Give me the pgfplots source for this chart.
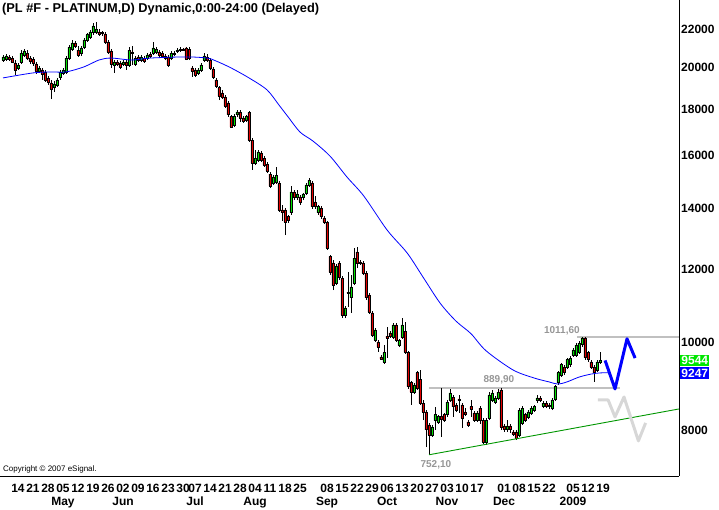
\documentclass[border=0pt]{standalone}
\usepackage{fontspec}
\setmainfont{Liberation Sans}
\usepackage{pgfplots}
\usepackage{pgfplotstable}
\pgfplotsset{compat=1.18}
\definecolor{cup}{RGB}{0,224,0}
\definecolor{cdn}{RGB}{226,0,0}
\definecolor{mablue}{RGB}{0,0,255}
\definecolor{trendgreen}{RGB}{0,150,0}
\definecolor{lvlgray}{RGB}{192,192,192}
\definecolor{ziggray}{RGB}{215,215,215}
\definecolor{labgray}{RGB}{150,150,150}
\definecolor{boxgreen}{RGB}{0,230,0}
\definecolor{boxblue}{RGB}{0,0,255}
\pgfplotsset{
  wick/.style={black, line width=0.9pt, mark=none, forget plot},
  body/.style={draw=black, line width=0.6pt, mark=none, forget plot},
}
\pgfplotstableread{
n o h l c col
0 20380 20640 20280 20540 cup
1 20430 20690 20330 20590 cup
2 20540 20640 20330 20430 cdn
3 20480 20590 20230 20280 cdn
4 20230 20380 19630 19880 cdn
5 19980 20230 19880 20130 cup
6 20280 20900 20180 20740 cup
7 20640 20950 20540 20850 cup
8 20740 20900 20380 20480 cdn
9 20480 20590 20180 20330 cdn
10 20430 20540 20080 20230 cdn
11 20180 20280 19680 19830 cdn
12 19830 20080 19730 19980 cup
13 19880 19980 19380 19680 cdn
14 19780 19880 19280 19380 cdn
15 19480 19580 19140 19280 cdn
16 19240 19380 18470 18950 cdn
17 19000 19330 18800 19190 cup
18 19140 19480 19040 19380 cup
19 19530 19880 19380 19780 cup
20 19730 19980 19630 19880 cup
21 19780 20590 19680 20480 cup
22 20480 21170 20380 21060 cup
23 20950 21440 20850 21280 cup
24 21280 21390 21010 21110 cdn
25 20900 21110 20540 20640 cdn
26 20740 21110 20590 21010 cup
27 21060 21550 20950 21440 cup
28 21440 21830 21330 21720 cup
29 21610 21990 21500 21880 cup
30 21830 22380 21720 22210 cup
31 21880 22440 21770 22050 cup
32 21880 22050 21660 21770 cdn
33 21830 21940 21660 21790 cdn
34 21770 21880 21220 21330 cdn
35 21330 21440 20690 20800 cdn
36 20850 20950 19980 20180 cdn
37 20130 20380 19730 20280 cup
38 20280 20380 20080 20180 cdn
39 20230 20330 19930 20030 cdn
40 20180 20380 20080 20280 cup
41 20280 20380 19880 20130 cdn
42 20130 21060 20030 20900 cup
43 20800 21110 20130 20750 cdn
44 20180 20590 20080 20480 cup
45 20540 20640 20280 20380 cdn
46 20380 20640 20280 20540 cup
47 20480 20590 20230 20330 cdn
48 20480 20740 20380 20640 cup
49 20690 20800 20480 20590 cdn
50 20740 21330 20640 21010 cup
51 20800 21060 20690 20950 cup
52 20800 20900 20540 20640 cdn
53 20740 20850 20480 20590 cdn
54 20590 20690 20380 20480 cdn
55 20540 20640 20030 20130 cdn
56 20480 20850 20380 20740 cup
57 20690 20850 20590 20740 cup
58 20850 21010 20740 20900 cup
59 20900 21060 20800 20950 cup
60 20950 21010 20850 20900 cdn
61 21010 21060 20380 20430 cdn
62 20950 21060 20380 20480 cdn
63 19980 20080 19530 19830 cdn
64 19880 19980 19530 19630 cdn
65 19730 19980 19630 19880 cup
66 19880 20230 19780 20130 cup
67 20380 20740 20280 20590 cup
68 20540 20690 20280 20380 cdn
69 20380 20480 19880 19980 cdn
70 19930 20030 19430 19530 cdn
71 19380 19480 19000 19090 cdn
72 19000 19090 18420 18610 cdn
73 18760 18900 18470 18570 cdn
74 18570 18660 18060 18150 cdn
75 18290 18380 17660 17750 cdn
76 17660 17750 17170 17210 cdn
77 17300 17790 17210 17660 cup
78 17750 17970 17660 17880 cup
79 17880 17970 17430 17610 cdn
80 17610 17700 17390 17480 cdn
81 17520 17750 17430 17660 cup
82 17840 17930 16570 16650 cdn
83 16650 16730 15440 15710 cdn
84 15710 16240 15630 15910 cup
85 15830 16240 15750 16160 cup
86 16120 16200 15750 15830 cdn
87 15910 15990 15560 15630 cdn
88 15670 15750 15320 15400 cdn
89 15280 15360 14750 14830 cdn
90 14940 15240 14870 15170 cup
91 14980 15560 14900 15240 cup
92 14940 15010 13890 13960 cdn
93 13960 14140 13580 13860 cdn
94 13960 14030 13100 13540 cdn
95 13720 13790 13510 13610 cdn
96 13860 14830 13790 14610 cup
97 14610 14680 14310 14420 cdn
98 14420 14680 14310 14530 cup
99 14420 14500 14140 14240 cdn
100 14420 14570 14310 14530 cup
101 14570 14940 14500 14870 cup
102 14870 15130 14790 15050 cup
103 14940 15010 14000 14070 cdn
104 14240 14460 14000 14070 cdn
105 13860 14140 13790 14070 cup
106 14030 14100 13650 13720 cdn
107 13680 13750 13470 13540 cdn
108 13510 13580 12620 12680 cdn
109 12400 12460 11840 11930 cdn
110 12210 12300 11400 11540 cdn
111 11600 12180 11540 12110 cup
112 12210 12270 11690 11780 cdn
113 11750 11810 10620 10700 cdn
114 10700 10950 10620 10900 cup
115 11340 11930 10920 11310 cdn
116 11180 11840 10760 11490 cup
117 11600 12680 11540 12360 cup
118 12550 12710 12050 12210 cdn
119 12240 12300 12150 12210 cdn
120 12210 12270 11840 11900 cdn
121 11900 11960 11120 11180 cdn
122 11260 11310 10730 10790 cdn
123 10760 10810 10130 10180 cdn
124 10050 10360 10000 10310 cup
125 10000 10050 9750 9870 cdn
126 9630 9680 9556 9580 cdn
127 9510 9920 9460 9730 cup
128 10150 10390 9610 10100 cdn
129 10230 10280 10100 10150 cdn
130 10130 10490 10080 10440 cup
131 10440 10490 10000 10050 cdn
132 9920 10080 9870 10030 cup
133 10130 10630 10080 10440 cup
134 10260 10520 9700 9750 cdn
135 9730 9780 8880 8930 cdn
136 9020 9060 8530 8810 cdn
137 8810 9020 8770 8970 cup
138 9250 9290 8860 8900 cdn
139 9090 9320 8530 8570 cdn
140 8570 8640 8210 8380 cdn
141 8380 8420 7670 8010 cdn
142 8110 8150 7521 7910 cdn
143 7910 8110 7870 8070 cup
144 8210 8490 8010 8320 cup
145 8170 8320 8130 8280 cup
146 8280 8899 7870 8230 cdn
147 8320 8360 8170 8210 cdn
148 8320 8640 8280 8590 cup
149 8640 8880 8590 8790 cup
150 8700 8750 8280 8490 cdn
151 8530 8570 8380 8420 cdn
152 8660 8750 8360 8620 cdn
153 8530 8570 8050 8250 cdn
154 8380 8460 8300 8340 cdn
155 8170 8210 8070 8110 cdn
156 8490 8640 8280 8440 cdn
157 8360 8400 8170 8210 cdn
158 8210 8400 8170 8360 cup
159 8460 8510 8130 8210 cdn
160 8210 8250 7730 7770 cdn
161 7770 8250 7710 8210 cup
162 8250 8810 8210 8750 cup
163 8640 8860 8590 8790 cup
164 8590 8720 8550 8680 cup
165 8680 8890 8640 8810 cup
166 8860 8895 8010 8070 cdn
167 8090 8130 7970 8010 cdn
168 8010 8210 7970 8090 cup
169 8090 8130 7950 8010 cdn
170 7970 8010 7890 7930 cdn
171 7970 8010 7810 7850 cdn
172 7910 8460 7870 8420 cup
173 8150 8510 8110 8460 cup
174 8320 8360 8170 8210 cdn
175 8260 8420 8230 8380 cup
176 8360 8510 8320 8460 cup
177 8420 8530 8380 8490 cup
178 8640 8750 8570 8680 cup
179 8680 8720 8590 8640 cdn
180 8510 8620 8460 8570 cup
181 8570 8620 8460 8510 cdn
182 8530 8570 8440 8490 cdn
183 8460 8680 8420 8640 cup
184 8660 8970 8610 8930 cup
185 9020 9290 8970 9250 cup
186 9200 9490 9160 9440 cup
187 9390 9440 9200 9250 cdn
188 9390 9600 9340 9560 cup
189 9440 9650 9390 9600 cup
190 9680 9850 9630 9800 cup
191 9680 9970 9630 9920 cup
192 9750 10030 9700 9970 cup
193 9930 10116 9880 10100 cup
194 10100 10116 9560 9610 cdn
195 9730 9780 9510 9560 cdn
196 9510 9560 9340 9390 cdn
197 9390 9440 9040 9250 cdn
198 9320 9560 9270 9510 cup
199 9510 9750 9460 9544 cup
}\candles
\pgfplotstableread{
n v
0 19480
10 19730
16 19780
21 19780
27 20030
32 20380
36 20480
43 20380
49 20480
61 20540
68 20480
71 20330
76 19980
82 19480
88 18900
92 18190
95 17660
99 16990
103.3 16610
109 15990
114.7 15160
120.3 14450
128 13270
134.7 12520
140 11780
145.7 11030
151 10540
156 10210
161 9780
170 9317
177 9130
182 9040
185 8990
188 9040
192 9150
196 9220
199 9247
202 9250
}\madata
\begin{document}
\begin{tikzpicture}
\path[use as bounding box] (0,-34pt) rectangle (719pt,476pt);
\begin{axis}[
  at={(0,0)}, anchor=south west,
  scale only axis, width=679pt, height=476pt,
  xmin=-1, xmax=225.333, ymin=7129, ymax=23717,
  ymode=log, clip=false,
  axis x line*=bottom, axis y line*=right,
  axis line style={black, line width=0.8pt, -},
  xtick={5,10,15,20,25,30,35,40,45,50,55,60,64,69,74,79,84,89,94,99,108,113,118,123,128,133,138,143,148,153,158,167,172,177,182,190,195,200},
  xticklabels={14,21,28,05,12,19,26,02,09,16,23,30,07,14,21,28,04,11,18,25,08,15,22,29,06,13,20,27,03,10,17,01,08,15,22,05,12,19},
  extra x ticks={20,40,64,84,108,128,148,167,190},
  extra x tick labels={May,Jun,Jul,Aug,Sep,Oct,Nov,Dec,2009},
  extra x tick style={xticklabel style={yshift=-13pt}},
  ytick={8000,10000,12000,14000,16000,18000,20000,22000},
  yticklabels={8000,10000,12000,14000,16000,18000,20000,22000},
  major tick length=0pt, minor tick num=0,
  tick label style={font=\bfseries\fontsize{12}{12}\selectfont},
  xticklabel style={anchor=base, inner sep=0pt, yshift=-17pt},
  yticklabel style={anchor=west, inner sep=0pt, xshift=2pt},
]
% resistance / support levels
\addplot[lvlgray, line width=2pt, forget plot] coordinates {(142,8899) (205.7,8899)};
\addplot[lvlgray, line width=2pt, forget plot] coordinates {(191.3,10116) (225.333,10116)};
% candles
\pgfplotsinvokeforeach{0,...,199}{%
  \pgfplotstablegetelem{#1}{n}\of\candles\edef\cn{\pgfplotsretval}%
  \pgfplotstablegetelem{#1}{o}\of\candles\edef\co{\pgfplotsretval}%
  \pgfplotstablegetelem{#1}{h}\of\candles\edef\ch{\pgfplotsretval}%
  \pgfplotstablegetelem{#1}{l}\of\candles\edef\cl{\pgfplotsretval}%
  \pgfplotstablegetelem{#1}{c}\of\candles\edef\cc{\pgfplotsretval}%
  \pgfplotstablegetelem{#1}{col}\of\candles\edef\ccol{\pgfplotsretval}%
  \pgfmathsetmacro\xl{\cn-0.35}%
  \pgfmathsetmacro\xr{\cn+0.35}%
  \edef\temp{%
    \noexpand\addplot[wick] coordinates {(\cn,\cl) (\cn,\ch)};%
    \noexpand\addplot[body, fill=\ccol] coordinates {(\xl,\co) (\xr,\co) (\xr,\cc) (\xl,\cc) (\xl,\co)};%
  }\temp
}
% moving average
\addplot[mablue, line width=0.8pt, smooth, mark=none, forget plot] table[x=n, y=v] {\madata};
% trend line
\addplot[trendgreen, line width=0.9pt, mark=none, forget plot] coordinates {(142,7521) (225.333,8443)};
% projections
\addplot[ziggray, line width=3pt, line join=round, mark=none, forget plot] coordinates {(198.3,8637) (201.7,8637) (204,8274) (207,8702) (211.8,7790) (214.2,8150)};
\addplot[mablue, line width=3pt, line join=round, mark=none, forget plot] coordinates {(200.7,9544) (204,8880) (208,10080) (210.7,9600)};
% texts
\node[anchor=base west, inner sep=0pt, font=\bfseries\fontsize{12.8}{13}\selectfont] at (rel axis cs:0,1) [xshift=2pt, yshift=-13pt] {(PL \#F - PLATINUM,D) Dynamic,0:00-24:00 (Delayed)};
\node[anchor=base west, inner sep=0pt, font=\fontsize{8}{8}\selectfont] at (rel axis cs:0,0) [xshift=3pt, yshift=4pt] {Copyright © 2007 eSignal.};
\node[text=labgray, inner sep=0pt, font=\bfseries\fontsize{10}{10}\selectfont] at (axis cs:186.3,10284) {1011,60};
\node[text=labgray, inner sep=0pt, font=\bfseries\fontsize{10}{10}\selectfont] at (axis cs:165.3,9085) {889,90};
\node[text=labgray, inner sep=0pt, font=\bfseries\fontsize{10}{10}\selectfont] at (axis cs:144.3,7330) {752,10};
\node[fill=boxgreen, text=white, anchor=west, inner xsep=1pt, inner ysep=1.5pt, minimum width=28pt, font=\bfseries\fontsize{12}{12}\selectfont] at (axis cs:225.333,9544) [xshift=1.2pt] {9544};
\node[fill=boxblue, text=white, anchor=west, inner xsep=1pt, inner ysep=1.5pt, minimum width=28pt, font=\bfseries\fontsize{12}{12}\selectfont] at (axis cs:225.333,9247) [xshift=1.2pt] {9247};
\end{axis}
\end{tikzpicture}
\end{document}
